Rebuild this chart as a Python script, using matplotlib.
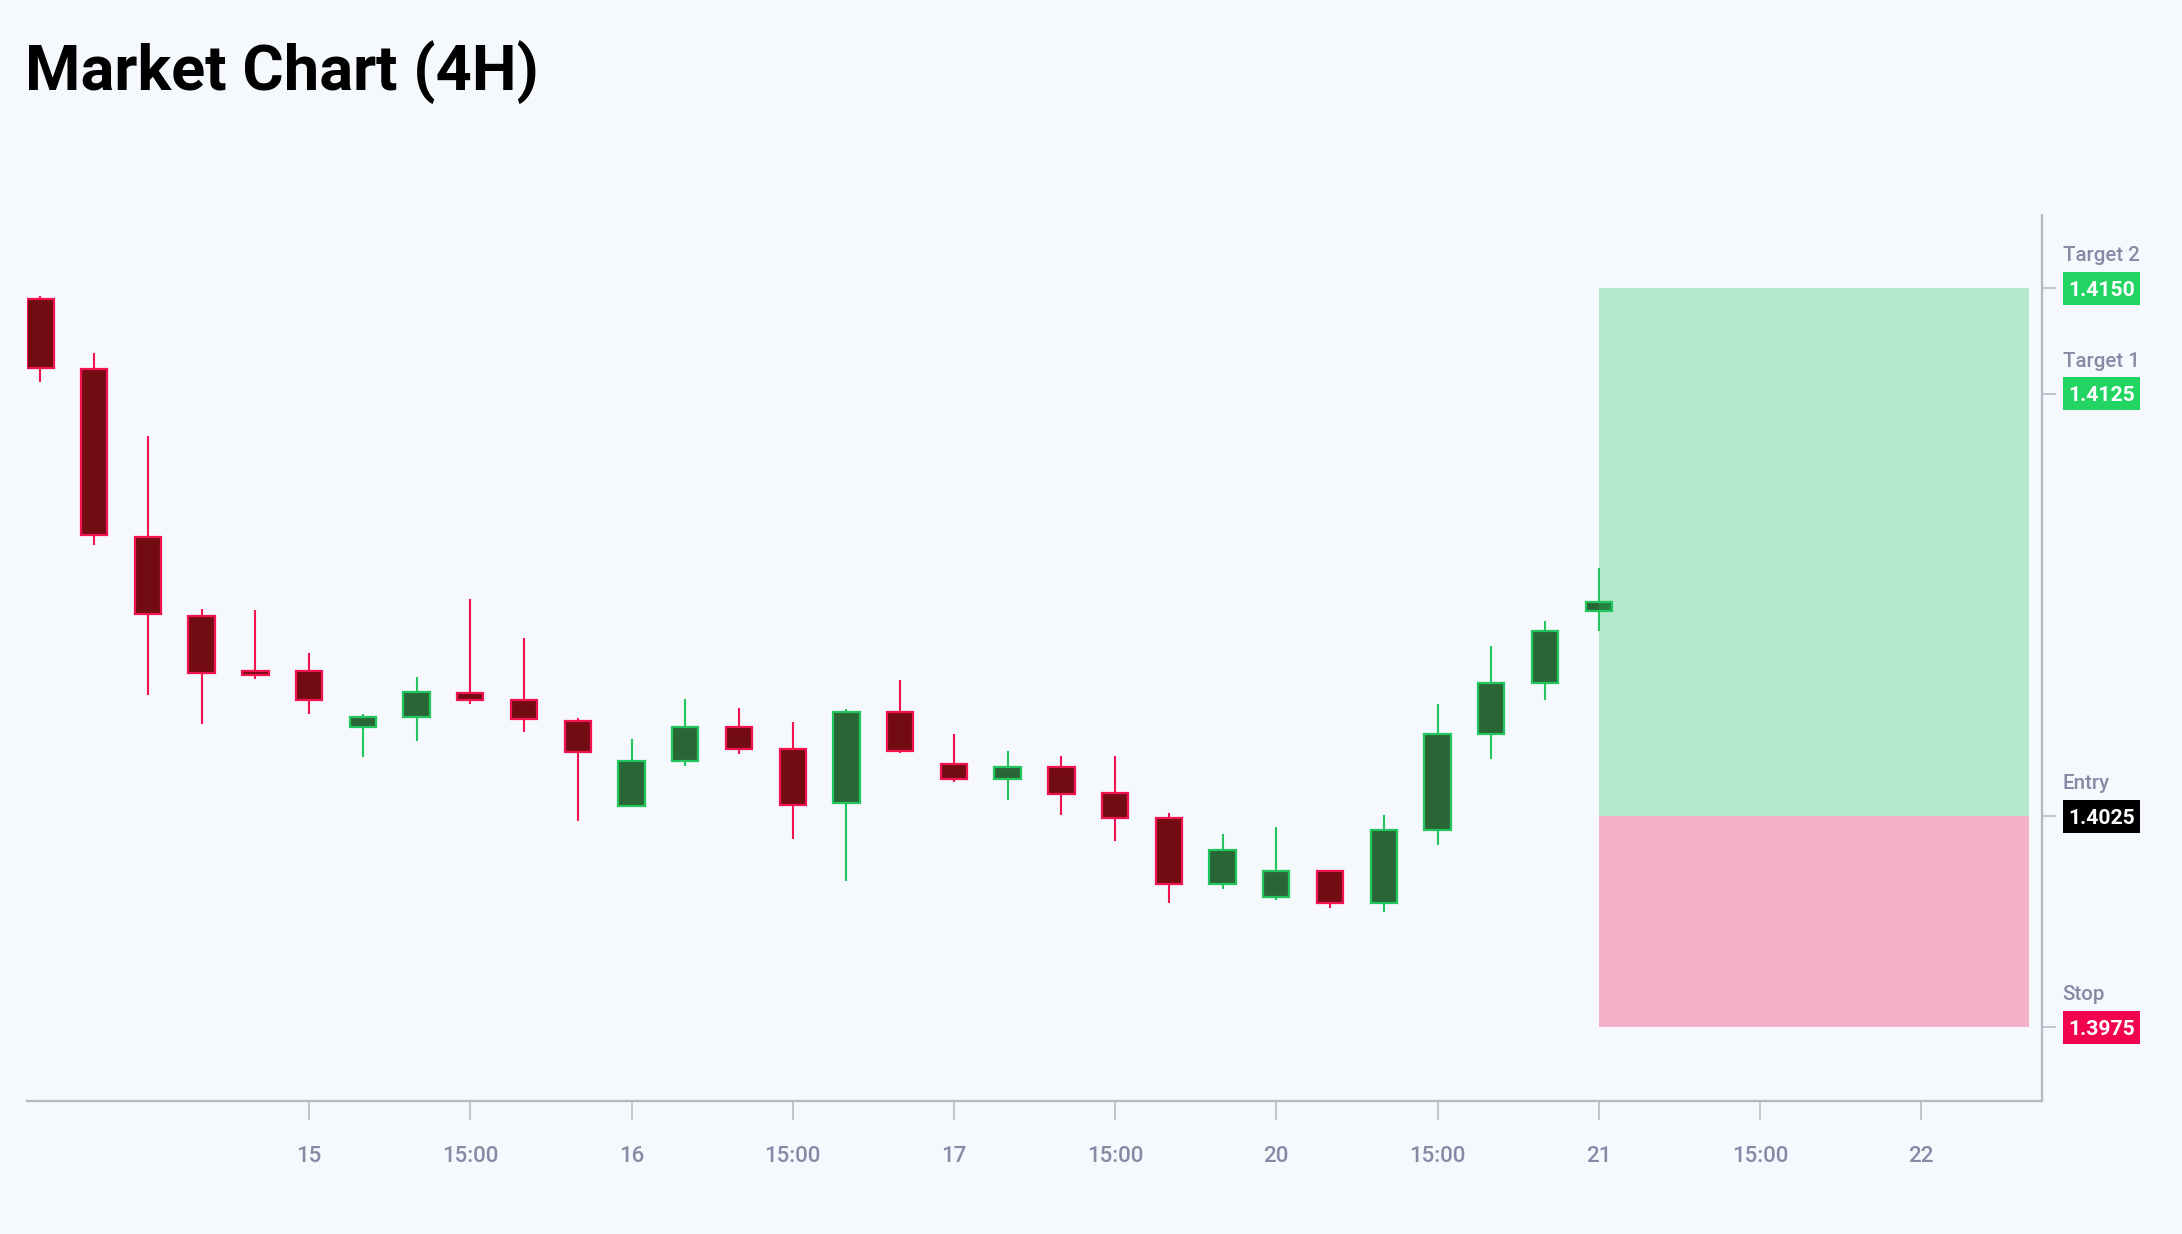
import matplotlib
matplotlib.use("Agg")
import matplotlib.pyplot as plt
from matplotlib.patches import Rectangle

# ---- data ----
opens  = [1.41474, 1.41308, 1.40910, 1.40724, 1.40594, 1.40594, 1.40461, 1.40484, 1.40542, 1.40525,
          1.40475, 1.40275, 1.40380, 1.40461, 1.40408, 1.40281, 1.40496, 1.40373, 1.40338, 1.40366,
          1.40305, 1.40246, 1.40088, 1.40058, 1.40120, 1.40043, 1.40218, 1.40444, 1.40565, 1.40735]
highs  = [1.41481, 1.41348, 1.41151, 1.40741, 1.40738, 1.40636, 1.40493, 1.40580, 1.40764, 1.40671,
          1.40483, 1.40432, 1.40527, 1.40507, 1.40472, 1.40503, 1.40573, 1.40445, 1.40404, 1.40392,
          1.40393, 1.40257, 1.40207, 1.40223, 1.40123, 1.40253, 1.40515, 1.40652, 1.40712, 1.40838]
lows   = [1.41279, 1.40893, 1.40538, 1.40469, 1.40575, 1.40493, 1.40389, 1.40428, 1.40515, 1.40449,
          1.40238, 1.40271, 1.40369, 1.40396, 1.40196, 1.40097, 1.40400, 1.40330, 1.40288, 1.40252,
          1.40192, 1.40045, 1.40077, 1.40051, 1.40033, 1.40022, 1.40182, 1.40385, 1.40525, 1.40688]
closes = [1.41311, 1.40917, 1.40728, 1.40590, 1.40584, 1.40525, 1.40485, 1.40545, 1.40526, 1.40479,
          1.40401, 1.40380, 1.40461, 1.40408, 1.40277, 1.40496, 1.40405, 1.40338, 1.40366, 1.40303,
          1.40246, 1.40089, 1.40170, 1.40120, 1.40043, 1.40218, 1.40444, 1.40565, 1.40689, 1.40757]

tick_index  = [5, 8, 11, 14, 17, 20, 23, 26, 29, 32, 35]
tick_labels = ["15", "15:00", "16", "15:00", "17", "15:00", "20", "15:00", "21", "15:00", "22"]

level_names  = ["Target 2", "Target 1", "Entry", "Stop"]
level_values = [1.4150, 1.4125, 1.4025, 1.3975]
level_colors = ["#22d462", "#22d462", "#000000", "#f2034f"]

trade_start = 29
trade_end = 37
entry_price = 1.4025
target_price = 1.4150
stop_price = 1.3975

title = "Market Chart (4H)"

# ---- style ----
BG = "#f5f8fc"
BEAR_FILL, BEAR_EDGE = "#730c12", "#f0134f"
BULL_FILL, BULL_EDGE = "#2a6535", "#22c55e"
AXIS_C = "#b5b8c2"
TXT_C = "#868aa5"
plt.rcParams["font.family"] = ["Roboto", "DejaVu Sans"]

W, H = 2182, 1234
AX_L, AX_R, AX_T, AX_B = 27, 2042, 215, 1101
fig = plt.figure(figsize=(W / 100, H / 100), dpi=100, facecolor=BG)
ax = fig.add_axes([AX_L / W, 1 - AX_B / H, (AX_R - AX_L) / W, (AX_B - AX_T) / H])
ax.set_facecolor(BG)

xs = list(range(len(opens)))
for i, o, h, l, c in zip(xs, opens, highs, lows, closes):
    up = c >= o
    fill = BULL_FILL if up else BEAR_FILL
    edge = BULL_EDGE if up else BEAR_EDGE
    ax.vlines(i, l, h, color=edge, linewidth=1.5, zorder=2)
    ax.bar(i, abs(c - o), bottom=min(o, c), width=0.49, color=fill,
           edgecolor=edge, linewidth=1.6, zorder=3)

ax.add_patch(Rectangle((trade_start, entry_price), trade_end - trade_start,
                       target_price - entry_price, facecolor="#22c55e", alpha=0.3,
                       edgecolor="none", zorder=4))
ax.add_patch(Rectangle((trade_start, stop_price), trade_end - trade_start,
                       entry_price - stop_price, facecolor="#f0134f", alpha=0.3,
                       edgecolor="none", zorder=4))

y0, y1 = 1.39575, 1.41674
ax.set_xlim(-0.25, 37.25)
ax.set_ylim(y0, y1)

for s in ["top", "left"]:
    ax.spines[s].set_visible(False)
for s in ["bottom", "right"]:
    ax.spines[s].set_color(AXIS_C)
    ax.spines[s].set_linewidth(1.6)

ax.set_xticks(tick_index)
ax.set_xticklabels(tick_labels)
ax.tick_params(axis="x", direction="out", length=13.7, width=1.1, color=AXIS_C,
               pad=19, labelsize=16, labelcolor=TXT_C)
for t in ax.get_xticklabels():
    t.set_fontweight(500)

ax.yaxis.tick_right()
ax.set_yticks(level_values)
ax.set_yticklabels([])
ax.tick_params(axis="y", direction="out", length=10, width=1.1, color=AXIS_C)

ax_w_px = AX_R - AX_L
px_per_unit = (AX_B - AX_T) / (y1 - y0)
box_w = 77 / ax_w_px
box_h = 33 / px_per_unit
box_x = 1 + 21 / ax_w_px
ytr = ax.get_yaxis_transform()
for name, val, col in zip(level_names, level_values, level_colors):
    ax.add_patch(Rectangle((box_x, val - box_h / 2), box_w, box_h, transform=ytr,
                           facecolor=col, edgecolor="none", clip_on=False, zorder=5))
    ax.text(box_x + box_w / 2, val, f"{val:.4f}", transform=ytr,
            ha="center", va="center_baseline", fontsize=15.2, fontweight="bold",
            color="white", clip_on=False, zorder=6)
    ax.annotate(name, xy=(1, val), xycoords=("axes fraction", "data"),
                xytext=(14.9, 19.7), textcoords="offset points",
                ha="left", va="baseline", fontsize=14.8, fontweight=500,
                color=TXT_C, annotation_clip=False)

fig.text(25 / W, 1 - 90 / H, title, fontsize=45.5, fontweight="bold",
         color="black", ha="left", va="baseline")

fig.savefig("out.png", dpi=100, facecolor=BG)
